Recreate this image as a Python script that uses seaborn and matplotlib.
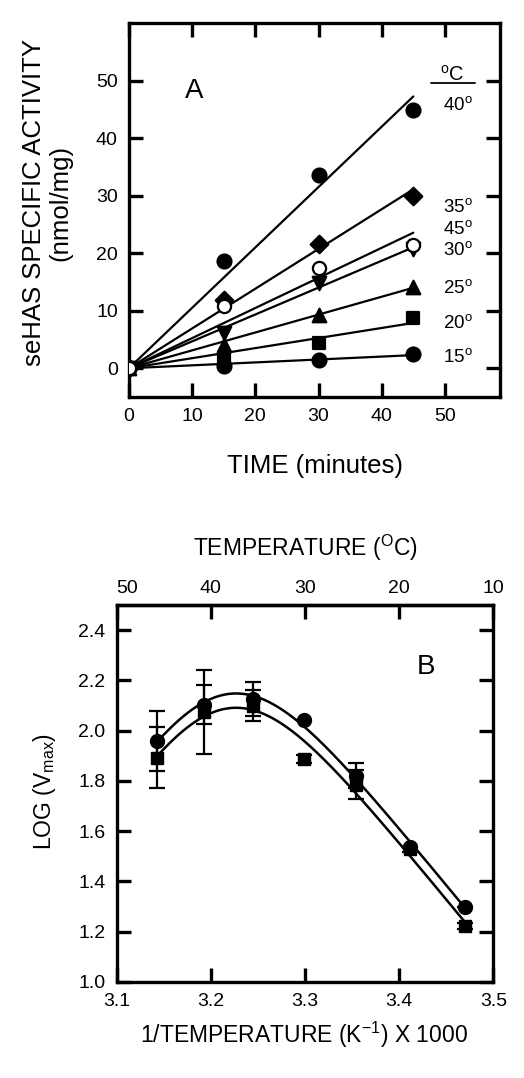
import numpy as np
import pandas as pd
import seaborn as sns
import matplotlib
matplotlib.use('Agg')
import matplotlib.pyplot as plt

sns.set_style('ticks')
plt.rcParams['font.family'] = ['Liberation Sans', 'DejaVu Sans']
plt.rcParams['mathtext.default'] = 'regular'
for k in ['text.color', 'axes.labelcolor', 'xtick.color', 'ytick.color', 'axes.edgecolor']:
    plt.rcParams[k] = 'black'

# ---- panel A: activity vs time at each temperature
time_min = [0, 15, 30, 45]
temps_a = ['15', '20', '25', '30', '35', '40', '45']
act_15 = [0, 0.4, 1.45, 2.45]
act_20 = [0, 1.75, 4.45, 8.7]
act_25 = [0, 4.05, 9.3, 14.2]
act_30 = [0, 6.1, 14.8, 20.8]
act_35 = [0, 11.9, 21.6, 30.0]
act_40 = [0, 18.7, 33.5, 44.9]
act_45 = [0, 10.9, 17.4, 21.4]
label_y = [2.0, 7.8, 13.9, 20.5, 28.1, 45.8, 24.2]

# ---- panel B: log Vmax vs 1/T
temp_c = [45, 40, 35, 30, 25, 20, 15]
inv_t = [3.143, 3.193, 3.245, 3.299, 3.354, 3.411, 3.470]
logv_circ = [1.958, 2.104, 2.126, 2.044, 1.820, 1.538, 1.296]
err_circ = [0.120, 0.079, 0.066, 0.0, 0.050, 0.0, 0.0]
logv_sq = [1.893, 2.074, 2.100, 1.886, 1.785, 1.527, 1.222]
err_sq = [0.123, 0.166, 0.060, 0.015, 0.058, 0.010, 0.012]
top_ticks = [3.1, 3.2, 3.3, 3.4, 3.5]
top_labels = ['50', '40', '30', '20', '10']


def joint_fit(xv, y1, y2):
    # y = a_i - b*x - log10(1 + 10**(d*(x0 - x))), shape shared by both series
    xv = np.asarray(xv); y1 = np.asarray(y1); y2 = np.asarray(y2)
    n = len(xv)
    X = np.concatenate([xv, xv])
    Y = np.concatenate([y1, y2])
    A = np.zeros((2 * n, 3))
    A[:n, 0] = 1
    A[n:, 1] = 1
    A[:, 2] = -X
    best = None
    for x0 in np.linspace(3.15, 3.35, 201):
        for d in np.linspace(2, 30, 141):
            pen = np.log10(1 + 10 ** (d * (x0 - X)))
            coef, *_ = np.linalg.lstsq(A, Y + pen, rcond=None)
            sse = np.sum((A @ coef - pen - Y) ** 2)
            if best is None or sse < best[0]:
                best = (sse, coef, x0, d)
    _, coef, x0, d = best
    xs = np.linspace(xv.min(), xv.max(), 200)
    shape = -coef[2] * xs - np.log10(1 + 10 ** (d * (x0 - xs)))
    return xs, coef[0] + shape, coef[1] + shape


fig = plt.figure(figsize=(5.24, 10.78), dpi=100)

def style_axes(ax):
    for s in ax.spines.values():
        s.set_linewidth(2.4)
        s.set_color('black')
    ax.tick_params(direction='in', length=10, width=2.4, labelsize=14,
                   top=True, right=True, bottom=True, left=True, pad=8)

# ---------------- A
axA = fig.add_axes([0.246, 0.6317, 0.708, 0.347])
series = {'15': act_15, '20': act_20, '25': act_25, '30': act_30,
          '35': act_35, '40': act_40, '45': act_45}
markers = {'15': 'o', '20': 's', '25': '^', '30': 'v', '35': 'D', '40': 'o', '45': 'o'}
msize = {'15': 100, '20': 85, '25': 95, '30': 95, '35': 80, '40': 100, '45': 90}
x = np.array(time_min, dtype=float)
for t in temps_a:
    y = np.array(series[t], dtype=float)
    slope = np.sum(x * y) / np.sum(x * x)   # fit through origin
    xx = np.array([0, 45.0])
    axA.plot(xx, slope * xx, color='black', lw=1.6, zorder=2)
for t in temps_a:
    df = pd.DataFrame({'time': time_min, 'act': series[t]})
    face = 'white' if t == '45' else 'black'
    sns.scatterplot(data=df, x='time', y='act', marker=markers[t], s=msize[t],
                    color=face, edgecolor='black', linewidth=1.6, ax=axA, zorder=3)
for t, ly in zip(temps_a, label_y):
    axA.text(52.0, ly, t + '$^{o}$', fontsize=13.5, ha='center', va='center')
axA.text(51.2, 51.0, '$^{o}$C', fontsize=14.5, ha='center', va='center')
axA.plot([47.8, 54.7], [49.5, 49.5], color='black', lw=1.3, clip_on=False)
axA.text(10.3, 48.2, 'A', fontsize=20, ha='center', va='center')
axA.set_xlim(0, 58.7)
axA.set_ylim(-5, 60)
axA.set_xticks([0, 10, 20, 30, 40, 50])
axA.set_yticks([0, 10, 20, 30, 40, 50])
axA.set_xlabel('')
axA.set_ylabel('')
style_axes(axA)
fig.text(0.601, 0.5677, 'TIME (minutes)', fontsize=18.5, ha='center', va='center')
fig.text(0.09, 0.812, 'seHAS SPECIFIC ACTIVITY\n(nmol/mg)', fontsize=18.5, rotation=90,
         ha='center', va='center', multialignment='center', linespacing=1.15)

# ---------------- B
axB = fig.add_axes([0.2227, 0.0893, 0.7187, 0.3494])
xs, fit_c, fit_s = joint_fit(inv_t, logv_circ, logv_sq)
sns.lineplot(x=xs, y=fit_c, color='black', lw=1.8, ax=axB, zorder=2)
sns.lineplot(x=xs, y=fit_s, color='black', lw=1.8, ax=axB, zorder=2)
axB.errorbar(inv_t, logv_sq, yerr=err_sq, fmt='s', ms=9, color='black',
             ecolor='black', elinewidth=1.6, capsize=5.5, capthick=1.6, zorder=3)
axB.errorbar(inv_t, logv_circ, yerr=err_circ, fmt='o', ms=10, color='black',
             ecolor='black', elinewidth=1.6, capsize=5.5, capthick=1.6, zorder=4)
axB.text(3.428, 2.255, 'B', fontsize=20, ha='center', va='center')
axB.set_xlim(3.1, 3.5)
axB.set_ylim(1.0, 2.5)
axB.set_xticks([3.1, 3.2, 3.3, 3.4, 3.5])
axB.set_yticks([1.0, 1.2, 1.4, 1.6, 1.8, 2.0, 2.2, 2.4])
axB.set_xticklabels(['3.1', '3.2', '3.3', '3.4', '3.5'])
axB.set_yticklabels(['1.0', '1.2', '1.4', '1.6', '1.8', '2.0', '2.2', '2.4'])
axB.set_xlabel('')
axB.set_ylabel('')
style_axes(axB)
axB.tick_params(axis='x', top=False)
sec = axB.secondary_xaxis('top')
sec.set_xticks(top_ticks)
sec.set_xticklabels(top_labels)
sec.tick_params(direction='in', length=10, width=2.4, labelsize=14, pad=6)
sec.spines['top'].set_linewidth(2.4)
sec.get_xticklabels()[0].set_horizontalalignment('left')
fig.text(0.583, 1 - 548 / 1078, 'TEMPERATURE ($^{O}$C)', fontsize=16.5, ha='center', va='center')
fig.text(0.58, 1 - 1035 / 1078, '1/TEMPERATURE (K$^{-1}$) X 1000', fontsize=16.5,
         ha='center', va='center')
fig.text(45 / 524, 1 - 792 / 1078, 'LOG (V$_{max}$)', fontsize=16.5, rotation=90,
         ha='center', va='center')

fig.savefig('out.png', dpi=100)
